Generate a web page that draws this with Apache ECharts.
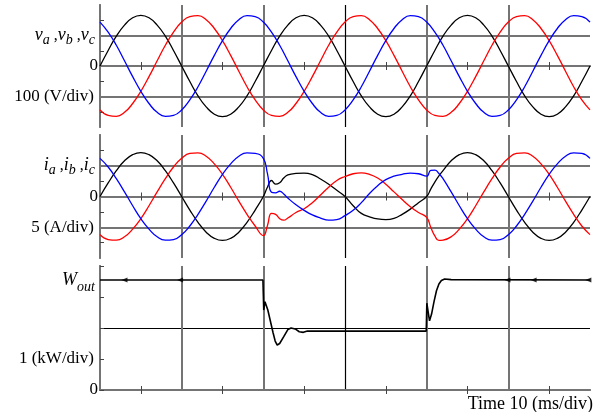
<!DOCTYPE html>
<html><head><meta charset="utf-8">
<script src="https://cdn.jsdelivr.net/npm/echarts@6/dist/echarts.min.js"></script>
<style>html,body{margin:0;padding:0;background:#fff}#c{width:595px;height:412px}</style>
</head><body><div id="c"></div>
<script>
// ---------- data ----------
const vTime = [0,1,2,3,4,5,6,7,8,9,10,11,12,13,14,15,16,17,18,19,20,21,22,23,24,25,26,27,28,29,30,31,32,33,34,35,36,37,38,39,40,41,42,43,44,45,46,47,48,49,50,51,52,53,54,55,56,57,58,59,60];
const va = [0,.51,.98,1.34,1.58,1.66,1.58,1.34,.98,.51,0,-.51,-.98,-1.34,-1.58,-1.66,-1.58,-1.34,-.98,-.51,
            0,.51,.98,1.34,1.58,1.66,1.58,1.34,.98,.51,0,-.51,-.98,-1.34,-1.58,-1.66,-1.58,-1.34,-.98,-.51,
            0,.51,.98,1.34,1.58,1.66,1.58,1.34,.98,.51,0,-.51,-.98,-1.34,-1.58,-1.66,-1.58,-1.34,-.98,-.51,0];
const vb = [-1.44,-1.62,-1.65,-1.52,-1.23,-.83,-.35,.17,.68,1.11,1.44,1.62,1.65,1.52,1.23,.83,.35,-.17,-.68,-1.11,
            -1.44,-1.62,-1.65,-1.52,-1.23,-.83,-.35,.17,.68,1.11,1.44,1.62,1.65,1.52,1.23,.83,.35,-.17,-.68,-1.11,
            -1.44,-1.62,-1.65,-1.52,-1.23,-.83,-.35,.17,.68,1.11,1.44,1.62,1.65,1.52,1.23,.83,.35,-.17,-.68,-1.11,-1.44];
const vc = [1.44,1.11,.68,.17,-.35,-.83,-1.23,-1.52,-1.65,-1.62,-1.44,-1.11,-.68,-.17,.35,.83,1.23,1.52,1.65,1.62,
            1.44,1.11,.68,.17,-.35,-.83,-1.23,-1.52,-1.65,-1.62,-1.44,-1.11,-.68,-.17,.35,.83,1.23,1.52,1.65,1.62,
            1.44,1.11,.68,.17,-.35,-.83,-1.23,-1.52,-1.65,-1.62,-1.44,-1.11,-.68,-.17,.35,.83,1.23,1.52,1.65,1.62,1.44];

const iTime = [0,1,2,3,4,5,6,7,8,9,10,11,12,13,14,15,16,17,18,19,
               20,20.5,21,21.5,22,22.5,23,24,25,26,27,28,29,30,31,32,33,34,35,36,37,38,39,40,40.5,41,41.5,
               42,43,44,45,46,47,48,49,50,51,52,53,54,55,56,57,58,59,60];
const ia = [0,.44,.84,1.16,1.36,1.43,1.36,1.16,.84,.44,0,-.44,-.84,-1.16,-1.36,-1.43,-1.36,-1.16,-.84,-.44,
            0,.3,.52,.4,.45,.6,.7,.75,.76,.71,.57,.4,.2,0,-.3,-.55,-.66,-.73,-.75,-.71,-.58,-.41,-.2,0,.24,.47,.67,
            .84,1.16,1.36,1.43,1.36,1.16,.84,.44,0,-.44,-.84,-1.16,-1.36,-1.43,-1.36,-1.16,-.84,-.44,0];
const ib = [-1.24,-1.40,-1.42,-1.31,-1.06,-.72,-.30,.15,.58,.96,1.24,1.40,1.42,1.31,1.06,.72,.30,-.15,-.58,-.96,
            -1.27,-.95,-.55,-.58,-.72,-.77,-.7,-.52,-.4,-.2,.05,.3,.52,.65,.74,.77,.72,.6,.4,.15,-.1,-.33,-.52,-.68,-1.0,-1.28,-1.43,
            -1.42,-1.31,-1.06,-.72,-.30,.15,.58,.96,1.24,1.40,1.42,1.31,1.06,.72,.30,-.15,-.58,-.96,-1.24];
const ic = [1.24,.96,.58,.15,-.30,-.72,-1.06,-1.31,-1.42,-1.40,-1.24,-.96,-.58,-.15,.30,.72,1.06,1.31,1.42,1.40,
            1.24,.75,.14,.12,.17,.08,-.05,-.27,-.45,-.6,-.7,-.77,-.75,-.62,-.45,-.2,.1,.35,.55,.66,.72,.76,.74,.66,.85,.86,.75,
            .58,.15,-.30,-.72,-1.06,-1.31,-1.42,-1.40,-1.24,-.96,-.58,-.15,.30,.72,1.06,1.31,1.42,1.40,1.24];

const pTime = [0,19.95,20.05,20.2,20.55,21.2,21.45,21.7,22.0,22.5,23.0,23.4,23.9,24.4,24.9,25.4,39.95,
               40.02,40.35,40.6,40.9,41.2,41.5,41.8,42.2,43,60];
const pOut  = [3.55,3.55,2.58,2.85,2.58,1.84,1.58,1.45,1.5,1.72,1.95,2.0,1.97,1.88,1.86,1.9,1.9,
               2.8,2.23,2.45,2.85,3.2,3.42,3.53,3.58,3.56,3.55];
const pMarkTime = [3.0, 9.8, 49.9, 53.1, 59.8];
const pMarkVal  = [3.55, 3.55, 3.55, 3.55, 3.55];

// tick labels
const vTickValues = [1, 0, -1];
const vTickTexts = ['{v|v}{s|a}{c| ,}{v|v}{s|b}{c| ,}{v|v}{s|c}{e|}', '{z|0}', '{n|100 (V/div)}'];
const iTickValues = [1, 0, -1];
const iTickTexts = ['{v|i}{s|a}{c| ,}{v|i}{s|b}{c| ,}{v|i}{s|c}{e|}', '{z|0}', '{n|5 (A/div)}'];
const pTickValues = [3, 1, 0];
const pTickTexts = ['{w|W}{o|out}{e|}', '{n|1 (kW/div)}', '{z|0}'];
const timeLabel = 'Time 10 (ms/div)';

// ---------- chart ----------
const FONT = '"Liberation Serif","Times New Roman",serif';
const GREY = '#747474';
const rich = {
  v: {fontFamily: FONT, fontStyle: 'italic', fontSize: 18, color: '#000'},
  w: {fontFamily: FONT, fontStyle: 'italic', fontSize: 18, color: '#000', padding: [0,0,34,0]},
  o: {fontFamily: FONT, fontStyle: 'italic', fontSize: 14, color: '#000', padding: [0,0,20,0]},
  s: {fontFamily: FONT, fontStyle: 'italic', fontSize: 14, color: '#000', padding: [9,0,0,0]},
  c: {fontFamily: FONT, fontSize: 16, color: '#000'},
  e: {fontSize: 10, width: 3},
  n: {fontFamily: FONT, fontSize: 17, color: '#000', padding: [0,4,0,0]},
  z: {fontFamily: FONT, fontSize: 17, color: '#000'}
};
const grids = [
  {left: 100, right: 5, top: 5, height: 122},
  {left: 100, right: 5, top: 135, height: 123},
  {left: 100, right: 5, top: 266, height: 124}
];
const xAxes = [], yAxes = [];
grids.forEach((g, gi) => {
  xAxes.push({
    gridIndex: gi, type: 'value', min: 0, max: 60, interval: 10, position: 'bottom',
    axisLabel: {show: false},
    axisLine: {lineStyle: {color: '#222', width: 1.5}},
    axisTick: {show: false},
    minorTick: {show: true, splitNumber: 2, length: -4, lineStyle: {color: '#444'}},
    splitLine: {show: true, lineStyle: {width: 2, color: ['transparent', GREY, GREY, 'transparent', GREY, GREY, 'transparent']}}
  });
  xAxes.push({
    gridIndex: gi, type: 'value', min: 0, max: 60, interval: 10, position: 'top',
    axisLabel: {show: false},
    axisLine: {lineStyle: {color: GREY, width: 2}},
    axisTick: {show: false},
    minorTick: {show: true, splitNumber: 2, length: -4, lineStyle: {color: '#444'}},
    splitLine: {show: true, lineStyle: {width: 1.2, color: ['transparent', 'transparent', 'transparent', '#000', 'transparent', 'transparent', 'transparent']}}
  });
});
function fmt(vals, texts) {
  return function (v) { const i = vals.indexOf(v); return i < 0 ? '' : texts[i]; };
}
// panel 1
yAxes.push({gridIndex: 0, type: 'value', min: -2, max: 2, interval: 1, position: 'left',
  axisLine: {lineStyle: {color: '#111', width: 1.5}},
  axisTick: {show: false}, minorTick: {show: true, splitNumber: 2, length: -4, lineStyle: {color: '#444'}},
  axisLabel: {margin: 2, formatter: fmt(vTickValues, vTickTexts), rich: rich},
  splitLine: {show: true, lineStyle: {width: 2, color: ['transparent', GREY, 'transparent', GREY, 'transparent']}}});
yAxes.push({gridIndex: 0, type: 'value', min: -2, max: 2, interval: 1, position: 'right',
  axisLine: {show: true, lineStyle: {color: GREY, width: 2}}, axisLabel: {show: false}, axisTick: {show: false},
  splitLine: {show: true, lineStyle: {width: 1.2, color: ['transparent', 'transparent', '#000', 'transparent', 'transparent']}}});
// panel 2
yAxes.push({gridIndex: 1, type: 'value', min: -2, max: 2, interval: 1, position: 'left',
  axisLine: {lineStyle: {color: '#111', width: 1.5}},
  axisTick: {show: false}, minorTick: {show: true, splitNumber: 2, length: -4, lineStyle: {color: '#444'}},
  axisLabel: {margin: 2, formatter: fmt(iTickValues, iTickTexts), rich: rich},
  splitLine: {show: true, lineStyle: {width: 2, color: ['transparent', GREY, 'transparent', GREY, 'transparent']}}});
yAxes.push({gridIndex: 1, type: 'value', min: -2, max: 2, interval: 1, position: 'right',
  axisLine: {show: true, lineStyle: {color: GREY, width: 2}}, axisLabel: {show: false}, axisTick: {show: false},
  splitLine: {show: true, lineStyle: {width: 1.2, color: ['transparent', 'transparent', '#000', 'transparent', 'transparent']}}});
// panel 3
yAxes.push({gridIndex: 2, type: 'value', min: 0, max: 4, interval: 1, position: 'left',
  axisLine: {lineStyle: {color: '#111', width: 1.5}},
  axisTick: {show: true, length: -4, lineStyle: {color: '#444'}},
  axisLabel: {margin: 2, formatter: fmt(pTickValues, pTickTexts), rich: rich},
  splitLine: {show: false}});
yAxes.push({gridIndex: 2, type: 'value', min: 0, max: 4, interval: 1, position: 'right',
  axisLine: {show: true, lineStyle: {color: GREY, width: 2}}, axisLabel: {show: false}, axisTick: {show: false},
  splitLine: {show: true, lineStyle: {width: 1.2, color: ['transparent', 'transparent', '#000', 'transparent', 'transparent']}}});

function pairs(t, v) { return t.map((x, i) => [x, v[i]]); }
function line(data, color, xi, yi, smooth) {
  return {type: 'line', data: data, xAxisIndex: xi, yAxisIndex: yi, showSymbol: false, smooth: smooth,
          animation: false, lineStyle: {color: color, width: 1.3}, itemStyle: {color: color}, z: 5};
}
const series = [
  line(pairs(vTime, va), '#000000', 0, 0, true),
  line(pairs(vTime, vb), '#ff0000', 0, 0, true),
  line(pairs(vTime, vc), '#0000ff', 0, 0, true),
  line(pairs(iTime, ia), '#000000', 2, 2, true),
  line(pairs(iTime, ib), '#ff0000', 2, 2, true),
  line(pairs(iTime, ic), '#0000ff', 2, 2, true),
  line(pairs(pTime, pOut), '#000000', 4, 4, false),
  {type: 'scatter', data: pairs(pMarkTime, pMarkVal), xAxisIndex: 4, yAxisIndex: 4, symbol: 'triangle',
   symbolSize: [5, 6], symbolRotate: 90, itemStyle: {color: '#000'}, z: 6, silent: true}
];
series[6].lineStyle.width = 1.6;

const chart = echarts.init(document.getElementById('c'), null, {renderer: 'canvas'});
chart.setOption({
  animation: false,
  backgroundColor: '#fff',
  title: {text: timeLabel, right: 2, bottom: -1, padding: 0,
          textStyle: {fontFamily: FONT, fontSize: 18, fontWeight: 'normal', color: '#000'}},
  grid: grids,
  xAxis: xAxes,
  yAxis: yAxes,
  series: series
});
</script></body></html>
